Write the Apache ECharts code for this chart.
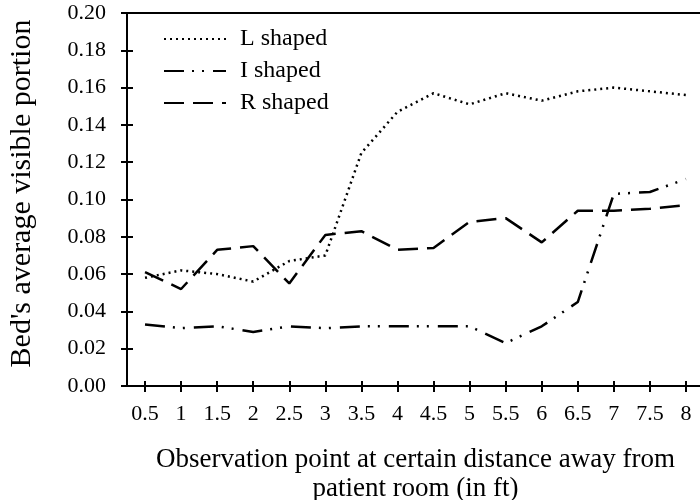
<!DOCTYPE html>
<html>
<head>
<meta charset="utf-8">
<script src="https://cdn.jsdelivr.net/npm/echarts@6/dist/echarts.min.js"></script>
<style>
  html, body { margin: 0; padding: 0; background: #fff; }
  #main { width: 700px; height: 500px; }
</style>
</head>
<body>
<div id="main"></div>
<script>
// distance from patient room (ft)
let distances = ['0.5', '1', '1.5', '2', '2.5', '3', '3.5', '4', '4.5', '5', '5.5', '6', '6.5', '7', '7.5', '8'];
let seriesNames = ['L shaped', 'I shaped', 'R shaped'];
let lShaped = [0.058, 0.062, 0.060, 0.056, 0.067, 0.070, 0.125, 0.147, 0.157, 0.151, 0.157, 0.153, 0.158, 0.160, 0.158, 0.156];
let iShaped = [0.033, 0.031, 0.032, 0.029, 0.032, 0.031, 0.032, 0.032, 0.032, 0.032, 0.023, 0.032, 0.045, 0.103, 0.104, 0.111];
let rShaped = [0.061, 0.052, 0.073, 0.075, 0.055, 0.081, 0.083, 0.073, 0.074, 0.088, 0.090, 0.077, 0.094, 0.094, 0.095, 0.097];

(function() {
    var font = 'Liberation Serif';
    var chart = echarts.init(document.getElementById('main'), null, {renderer: 'canvas'});

    var axisLine = {show: true, lineStyle: {color: '#000', width: 2}};
    var tickStyle = {color: '#000', width: 2};

    var option = {
        backgroundColor: '#fff',
        animation: false,
        grid: {left: 127, top: 13, width: 577, height: 373, containLabel: false, outerBoundsMode: 'none'},
        legend: {
            orient: 'vertical',
            left: 163,
            top: 27,
            padding: 0,
            itemWidth: 62,
            itemHeight: 14,
            itemGap: 8,
            itemStyle: {opacity: 0},
            textStyle: {fontFamily: font, fontSize: 24, color: '#000', lineHeight: 24, padding: [0, 0, 0, 9]},
            data: seriesNames
        },
        xAxis: [{
            type: 'category',
            data: distances,
            position: 'bottom',
            boundaryGap: true,
            axisLine: axisLine,
            axisTick: {show: true, alignWithLabel: true, length: 6, lineStyle: tickStyle},
            axisLabel: {fontFamily: font, fontSize: 22, color: '#000', margin: 17, interval: 0},
            splitLine: {show: false},
            name: 'Observation point at certain distance away from\npatient room (in ft)',
            nameLocation: 'middle',
            nameGap: 59,
            nameTextStyle: {fontFamily: font, fontSize: 27, color: '#000', lineHeight: 29}
        }, {
            // inner half of the crossing ticks
            type: 'category',
            data: distances,
            position: 'bottom',
            boundaryGap: true,
            axisLine: {show: false},
            axisTick: {show: true, inside: true, alignWithLabel: true, length: 5, lineStyle: tickStyle},
            axisLabel: {show: false}
        }, {
            // top frame line
            type: 'category',
            data: distances,
            position: 'top',
            axisLine: axisLine,
            axisTick: {show: false},
            axisLabel: {show: false}
        }],
        yAxis: [{
            type: 'value',
            min: 0,
            max: 0.2,
            interval: 0.02,
            position: 'left',
            axisLine: axisLine,
            axisTick: {show: true, length: 6, lineStyle: tickStyle},
            axisLabel: {
                fontFamily: font, fontSize: 22, color: '#000', margin: 21,
                formatter: function(v) { return v.toFixed(2); }
            },
            splitLine: {show: false},
            name: "Bed's average visible portion",
            nameLocation: 'middle',
            nameGap: 90,
            nameTextStyle: {fontFamily: font, fontSize: 30, color: '#000', lineHeight: 30, padding: [0, 0, 0, 12]}
        }, {
            type: 'value',
            min: 0,
            max: 0.2,
            interval: 0.02,
            position: 'left',
            axisLine: {show: false},
            axisTick: {show: true, inside: true, length: 6, lineStyle: tickStyle},
            axisLabel: {show: false},
            splitLine: {show: false}
        }],
        series: [{
            name: seriesNames[0],
            type: 'line',
            data: lShaped,
            symbol: 'none',
            lineStyle: {color: '#000', width: 2.5, type: [2, 4]},
            itemStyle: {color: '#000'}
        }, {
            name: seriesNames[1],
            type: 'line',
            data: iShaped,
            symbol: 'none',
            lineStyle: {color: '#000', width: 2.5, type: [20, 8, 2, 8, 2, 9]},
            itemStyle: {color: '#000'}
        }, {
            name: seriesNames[2],
            type: 'line',
            data: rShaped,
            symbol: 'none',
            lineStyle: {color: '#000', width: 2.5, type: [20, 9]},
            itemStyle: {color: '#000'}
        }]
    };
    chart.setOption(option);
})();
</script>
</body>
</html>
